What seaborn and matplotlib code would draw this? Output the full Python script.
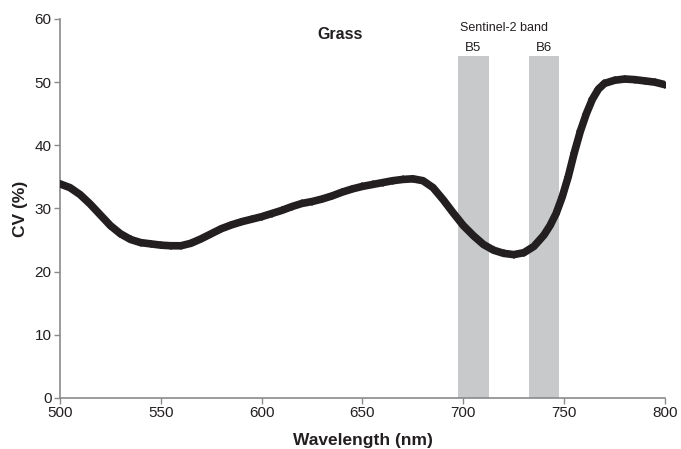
import matplotlib
matplotlib.use("Agg")
import matplotlib.pyplot as plt
import seaborn as sns
import pandas as pd

wavelength = [500, 505, 510, 515, 520, 525, 530, 535, 540, 545, 550, 555, 560, 565, 570,
              575, 580, 585, 590, 595, 600, 605, 610, 615, 620, 625, 630, 635, 640, 645,
              650, 655, 660, 665, 670, 675, 680, 685, 690, 695, 700, 705, 710, 715, 720,
              725, 730, 735, 740, 743, 746, 749, 752, 755, 758, 761, 764, 767, 770, 775,
              780, 785, 790, 795, 800]
cv = [33.9, 33.3, 32.2, 30.7, 29.0, 27.3, 26.0, 25.1, 24.6, 24.4, 24.2, 24.1, 24.1, 24.5, 25.2,
      26.0, 26.8, 27.4, 27.9, 28.3, 28.7, 29.2, 29.7, 30.3, 30.8, 31.1, 31.5, 32.0, 32.6, 33.1,
      33.5, 33.8, 34.1, 34.4, 34.6, 34.7, 34.4, 33.3, 31.4, 29.3, 27.3, 25.7, 24.3, 23.4, 22.9,
      22.7, 23.0, 24.0, 25.8, 27.3, 29.2, 31.8, 35.0, 38.8, 42.2, 45.0, 47.3, 48.9, 49.8, 50.3,
      50.5, 50.4, 50.2, 50.0, 49.6]

band_names = ["B5", "B6"]
band_start = [697.5, 732.5]
band_end = [712.5, 747.5]
band_top = 54.2

df = pd.DataFrame({"Wavelength": wavelength, "CV": cv})

sns.set_theme(style="white")
plt.rcParams['font.family'] = ['Liberation Sans', 'DejaVu Sans']

fig = plt.figure(figsize=(6.81, 4.49), dpi=100)
ax = fig.add_axes([0.088, 0.1136, 0.8885, 0.8441])

for name, s, e in zip(band_names, band_start, band_end):
    ax.fill_between([s, e], 0, band_top, color="#c8c9cb", lw=0, zorder=1)
    ax.text((s + e) / 2, band_top + 0.3, name, ha="center", va="bottom", fontsize=9.5, color="#231f20")
ax.text(720, 57.6, "Sentinel-2 band", ha="center", va="bottom", fontsize=9, color="#231f20")

sns.lineplot(data=df, x="Wavelength", y="CV", ax=ax, color="#231f20", linewidth=5.5,
             marker="D", markersize=4.5, markeredgewidth=0, zorder=3)

ax.text(639, 57.5, "Grass", ha="center", va="center", fontsize=11.5, fontweight="bold", color="#231f20")

ax.set_xlim(500, 800)
ax.set_ylim(0, 60)
ax.set_xticks([500, 550, 600, 650, 700, 750, 800])
ax.set_yticks([0, 10, 20, 30, 40, 50, 60])
ax.set_xlabel("Wavelength (nm)", fontsize=12.5, fontweight="bold", color="#231f20", labelpad=9)
ax.set_ylabel("CV (%)", fontsize=12.5, fontweight="bold", color="#231f20", labelpad=5)
ax.tick_params(axis="both", direction="out", length=4, width=1, color="#8a8a8c",
               labelsize=11, labelcolor="#231f20", pad=2, bottom=True, left=True)
for side in ["top", "right"]:
    ax.spines[side].set_visible(False)
for side in ["left", "bottom"]:
    ax.spines[side].set_color("#8a8a8c")
    ax.spines[side].set_linewidth(1.2)

fig.savefig("out.png", dpi=100)
